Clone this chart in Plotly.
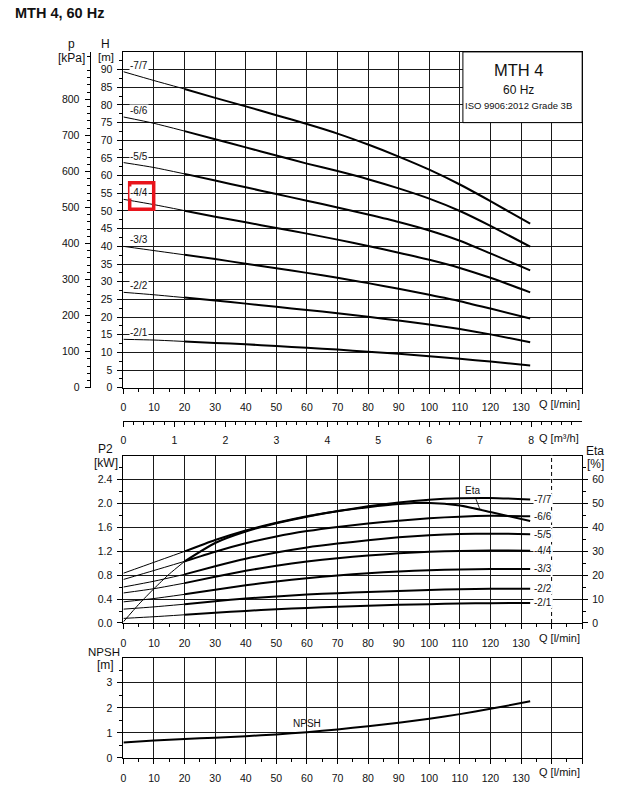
import plotly.graph_objects as go

# ---------------- data ----------------
q_lmin = [0, 10, 20, 30, 40, 50, 60, 70, 80, 90, 100, 110, 120, 133]
stage_labels = ["-7/7", "-6/6", "-5/5", "-4/4", "-3/3", "-2/2", "-2/1"]

head_7_7 = [89.4, 86.9, 84.5, 82.0, 79.6, 77.1, 74.6, 71.9, 68.8, 65.4, 61.7, 57.5, 52.8, 46.4]
head_6_6 = [76.6, 74.8, 72.6, 70.3, 68.0, 65.7, 63.4, 61.3, 59.0, 56.4, 53.5, 50.0, 45.8, 39.9]
head_5_5 = [63.7, 62.3, 60.5, 58.6, 56.7, 54.8, 52.9, 51.0, 49.0, 46.9, 44.5, 41.6, 38.0, 33.2]
head_4_4 = [53.3, 51.8, 50.1, 48.4, 46.8, 45.2, 43.6, 41.9, 40.1, 38.2, 36.2, 33.9, 31.1, 27.0]
head_3_3 = [40.0, 38.8, 37.6, 36.4, 35.1, 33.8, 32.5, 31.1, 29.6, 28.0, 26.3, 24.5, 22.4, 19.6]
head_2_2 = [27.0, 26.3, 25.5, 24.7, 23.8, 22.9, 22.0, 21.1, 20.1, 19.0, 17.9, 16.6, 15.1, 12.9]
head_2_1 = [13.7, 13.5, 13.1, 12.7, 12.3, 11.8, 11.3, 10.8, 10.2, 9.6, 8.9, 8.2, 7.4, 6.3]

p2_7_7 = [0.834, 1.017, 1.20, 1.39, 1.55, 1.68, 1.79, 1.875, 1.955, 2.02, 2.065, 2.09, 2.095, 2.07]
p2_6_6 = [0.729, 0.88, 1.033, 1.195, 1.335, 1.45, 1.54, 1.61, 1.665, 1.715, 1.755, 1.782, 1.795, 1.79]
p2_5_5 = [0.602, 0.70, 0.815, 0.95, 1.075, 1.18, 1.265, 1.33, 1.385, 1.435, 1.47, 1.49, 1.497, 1.488]
p2_4_4 = [0.503, 0.575, 0.668, 0.775, 0.875, 0.96, 1.03, 1.085, 1.13, 1.167, 1.193, 1.208, 1.215, 1.212]
p2_3_3 = [0.354, 0.41, 0.48, 0.557, 0.632, 0.697, 0.75, 0.795, 0.833, 0.864, 0.885, 0.898, 0.905, 0.906]
p2_2_2 = [0.232, 0.27, 0.315, 0.365, 0.41, 0.446, 0.476, 0.50, 0.52, 0.538, 0.553, 0.565, 0.572, 0.575]
p2_2_1 = [0.077, 0.105, 0.138, 0.171, 0.202, 0.23, 0.253, 0.272, 0.289, 0.304, 0.316, 0.325, 0.332, 0.337]

eta_q = [0, 5, 10, 15, 20, 30, 40, 50, 60, 70, 80, 90, 100, 110, 120, 133]
eta_pct = [0.5, 7.8, 14.4, 20.5, 25.8, 33.5, 38.3, 41.8, 44.5, 46.8, 48.5, 49.8, 50.3, 49.2, 46.5, 42.7]

npsh_m = [0.62, 0.70, 0.76, 0.81, 0.87, 0.94, 1.03, 1.14, 1.27, 1.41, 1.57, 1.75, 1.96, 2.26]

q_ticks = list(range(0, 151, 10))
q_labels = [str(v) if v <= 130 else "" for v in q_ticks]
h_ticks = list(range(0, 91, 5))
kpa_ticks = list(range(0, 801, 100))
p2_ticks = [0.0, 0.4, 0.8, 1.2, 1.6, 2.0, 2.4]
eta_ticks = [0, 10, 20, 30, 40, 50, 60]
npsh_ticks = [0, 1, 2, 3]
m3h_ticks = [0, 1, 2, 3, 4, 5, 6, 7, 8]

heads = [head_7_7, head_6_6, head_5_5, head_4_4, head_3_3, head_2_2, head_2_1]
powers = [p2_7_7, p2_6_6, p2_5_5, p2_4_4, p2_3_3, p2_2_2, p2_2_1]

# ---------------- layout helpers ----------------
W, H = 618, 801
FONT = "Liberation Sans, Arial, sans-serif"
INK = "#111111"
GRID = "#1a1a1a"


def fx(px):
    return px / W


def fy(py):
    return 1 - py / H


X_DOM = [fx(121), fx(582)]
TOP_DOM = [fy(390.7), fy(52.3)]
MID_DOM = [fy(627.7), fy(459.3)]
BOT_DOM = [fy(763.7), fy(662.7)]
Q_SPLIT = 20  # thin below, thick above

fig = go.Figure()


def add_curve(q, v, xa, ya):
    thin_q = [a for a in q if a <= Q_SPLIT]
    n = len(thin_q)
    fig.add_trace(go.Scatter(x=thin_q, y=v[:n], xaxis=xa, yaxis=ya, mode="lines",
                             line=dict(color="black", width=1, shape="spline", smoothing=0.6),
                             hoverinfo="skip", showlegend=False))
    fig.add_trace(go.Scatter(x=q[n - 1:], y=v[n - 1:], xaxis=xa, yaxis=ya, mode="lines",
                             line=dict(color="black", width=2, shape="spline", smoothing=0.6),
                             hoverinfo="skip", showlegend=False))


for hv in heads:
    add_curve(q_lmin, hv, "x", "y")
for pv in powers:
    add_curve(q_lmin, pv, "x2", "y2")
add_curve(eta_q, eta_pct, "x2", "y3")

fig.add_trace(go.Scatter(x=q_lmin, y=npsh_m, xaxis="x3", yaxis="y5", mode="lines",
                         line=dict(color="black", width=2, shape="spline", smoothing=0.6),
                         hoverinfo="skip", showlegend=False))

# dummy traces to register auxiliary axes
fig.add_trace(go.Scatter(x=[0], y=[0], xaxis="x", yaxis="y4", mode="markers",
                         marker=dict(opacity=0), hoverinfo="skip", showlegend=False))
fig.add_trace(go.Scatter(x=[0], y=[0], xaxis="x4", yaxis="y2", mode="markers",
                         marker=dict(opacity=0), hoverinfo="skip", showlegend=False))

TICKFONT = dict(family=FONT, size=10.5, color=INK)


def q_axis(anchor):
    return dict(domain=X_DOM, anchor=anchor, range=[0, 150], tickmode="array",
                tickvals=q_ticks, ticktext=q_labels, ticks="outside", ticklen=5,
                tickcolor="black", tickwidth=1, showgrid=True, gridcolor=GRID, gridwidth=1,
                showline=True, mirror=True, linecolor="black", linewidth=1, zeroline=False,
                minor=dict(tickmode="array", tickvals=list(range(5, 150, 10)), ticks="outside",
                           ticklen=3, tickcolor="black", showgrid=False),
                ticklabelstandoff=5, tickfont=TICKFONT, fixedrange=True)


def val_axis(dom, anchor, rng, tv, tt, minor_vals):
    return dict(domain=dom, anchor=anchor, range=rng, tickmode="array", tickvals=tv,
                ticktext=tt, ticks="outside", ticklen=5, tickcolor="black",
                showgrid=True, gridcolor=GRID, gridwidth=1, showline=True, mirror=True,
                linecolor="black", linewidth=1, zeroline=False,
                minor=dict(tickmode="array", tickvals=minor_vals, ticks="outside",
                           ticklen=3, tickcolor="black", showgrid=False),
                ticklabelstandoff=3, tickfont=TICKFONT, fixedrange=True)


KPA_PER_M = 9.80665

fig.update_layout(
    width=W, height=H, margin=dict(l=0, r=0, t=0, b=0),
    paper_bgcolor="white", plot_bgcolor="white", showlegend=False,
    font=dict(family=FONT, color=INK),
    xaxis=q_axis("y"),
    xaxis2=q_axis("y2"),
    xaxis3=q_axis("y5"),
    xaxis4=dict(overlaying="x2", anchor="free", position=fy(424.3), side="bottom",
                range=[0, 9], tickmode="array", tickvals=m3h_ticks,
                ticktext=[str(v) for v in m3h_ticks], ticks="outside", ticklen=5,
                tickcolor="black", showgrid=False, showline=True, linecolor="black",
                linewidth=1, zeroline=False,
                minor=dict(tickmode="array",
                           tickvals=[round(i * 0.2, 1) for i in range(46) if i % 5 != 0],
                           ticks="outside", ticklen=3, tickcolor="black", showgrid=False),
                ticklabelstandoff=4, tickfont=TICKFONT, fixedrange=True),
    yaxis=val_axis(TOP_DOM, "x", [0, 95], h_ticks, [str(v) for v in h_ticks],
                   [v + 2.5 for v in range(0, 95, 5)]),
    yaxis4=dict(overlaying="y", anchor="free", position=fx(87), side="left",
                range=[0, 95 * KPA_PER_M], tickmode="array", tickvals=kpa_ticks,
                ticktext=[str(v) for v in kpa_ticks], ticks="outside", ticklen=5,
                tickcolor="black", showgrid=False, showline=True, linecolor="black",
                linewidth=1, zeroline=False,
                minor=dict(tickmode="array",
                           tickvals=[v for v in range(20, 931, 20) if v % 100 != 0],
                           ticks="outside", ticklen=3, tickcolor="black", showgrid=False),
                ticklabelstandoff=3, tickfont=TICKFONT, fixedrange=True),
    yaxis2=val_axis(MID_DOM, "x2", [0, 2.8], p2_ticks, [f"{v:.1f}" for v in p2_ticks],
                    [0.2, 0.6, 1.0, 1.4, 1.8, 2.2, 2.6]),
    yaxis3=dict(overlaying="y2", anchor="x2", side="right", range=[0, 70],
                tickmode="array", tickvals=eta_ticks, ticktext=[str(v) for v in eta_ticks],
                ticks="outside", ticklen=5, tickcolor="black", showgrid=False,
                showline=True, linecolor="black", linewidth=1, zeroline=False,
                minor=dict(tickmode="array", tickvals=[5, 15, 25, 35, 45, 55, 65],
                           ticks="outside", ticklen=3, tickcolor="black", showgrid=False),
                ticklabelstandoff=2, tickfont=TICKFONT, fixedrange=True),
    yaxis5=val_axis(BOT_DOM, "x3", [0, 4], npsh_ticks, [str(v) for v in npsh_ticks],
                    [0.5, 1.5, 2.5, 3.5]),
)

# ---------------- shapes ----------------
shapes = [
    dict(type="rect", xref="x", yref="y", x0=111, x1=150, y0=75, y1=95,
         fillcolor="white", line=dict(color="black", width=1), layer="above"),
    dict(type="line", xref="x2", yref="y2 domain", x0=140, x1=140, y0=0, y1=1,
         line=dict(color="white", width=2), layer="above"),
    dict(type="line", xref="x2", yref="y2 domain", x0=140, x1=140, y0=0, y1=1,
         line=dict(color="black", width=1, dash="4px,3px"), layer="above"),
    dict(type="rect", xref="x", yref="y", x0=2.05, x1=9.9, y0=50.5, y1=58.0,
         fillcolor="rgba(0,0,0,0)", line=dict(color="#e8141c", width=3.5), layer="above"),
]
fig.update_layout(shapes=shapes)

# ---------------- annotations ----------------
ann = []


def paper_text(text, x, y, size, xanchor="center", bold=False):
    ann.append(dict(text=f"<b>{text}</b>" if bold else text, x=fx(x), y=fy(y),
                    xref="paper", yref="paper", xanchor=xanchor, yanchor="middle",
                    showarrow=False, font=dict(family=FONT, size=size, color=INK)))


paper_text("MTH 4, 60 Hz", 10, 12.7, 14.5, xanchor="left", bold=True)
paper_text("p", 69, 44, 12)
paper_text("[kPa]", 68.5, 58.5, 12)
paper_text("H", 103.5, 44, 12)
paper_text("[m]", 103.5, 57.5, 11.5)
paper_text("P2", 103, 452, 12)
paper_text("[kW]", 103, 466.7, 12)
paper_text("Eta", 595, 454, 12)
paper_text("[%]", 595, 467, 12)
paper_text("NPSH", 101, 656.5, 11.5)
paper_text("[m]", 102.5, 670.5, 12)
paper_text("Q [l/min]", 536.5, 407, 11, xanchor="left")
paper_text("Q [l/min]", 536.5, 643, 11, xanchor="left")
paper_text("Q [l/min]", 536.5, 778, 11, xanchor="left")
paper_text("Q [m³/h]", 536.5, 441, 11, xanchor="left")
paper_text("MTH 4", 518.5, 70.7, 16.5)
paper_text("60 Hz", 518.5, 90.7, 12)
paper_text("ISO 9906:2012 Grade 3B", 518.5, 106.7, 9.5)

for lab, hv in zip(stage_labels, heads):
    ann.append(dict(text=lab, x=5, y=hv[0], xref="x", yref="y", yshift=6.5,
                    xanchor="center", yanchor="middle", showarrow=False,
                    bgcolor="white", borderpad=0,
                    font=dict(family=FONT, size=10, color=INK)))
for lab, pv in zip(stage_labels, powers):
    ann.append(dict(text=lab, x=134, y=pv[-1], xref="x2", yref="y2",
                    xanchor="left", yanchor="middle", showarrow=False,
                    bgcolor="white", borderpad=0,
                    font=dict(family=FONT, size=10, color=INK)))

ann.append(dict(text="Eta", x=116.5, y=47.8, xref="x2", yref="y3", showarrow=True,
                arrowhead=0, arrowwidth=0.8, arrowcolor="black", ax=-7, ay=-18,
                standoff=0, font=dict(family=FONT, size=10, color=INK)))
ann.append(dict(text="NPSH", x=60, y=1.36, xref="x3", yref="y5", showarrow=False,
                font=dict(family=FONT, size=10, color=INK)))

fig.update_layout(annotations=ann)

fig.write_html(
    "out.html",
    config={"displayModeBar": False},
    post_script="document.body.style.margin='0px';document.body.style.overflow='hidden';",
)
